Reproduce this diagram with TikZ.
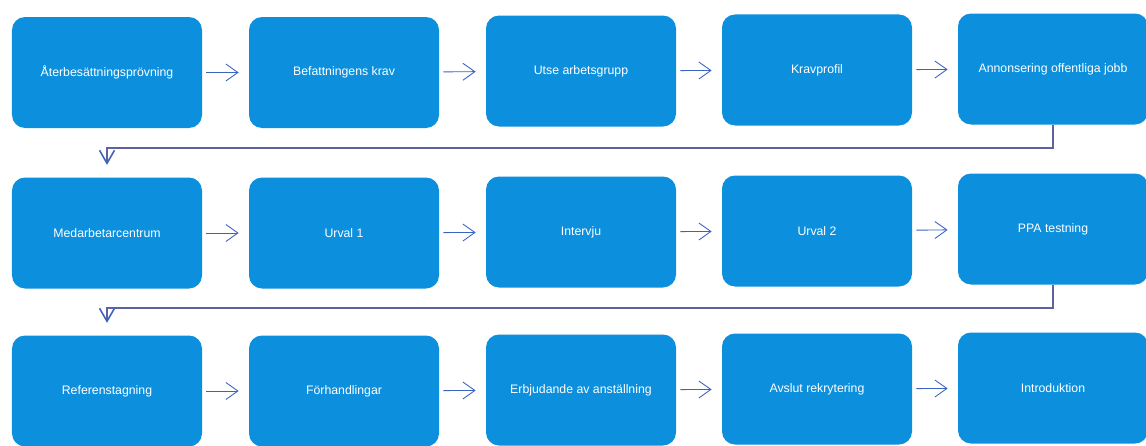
\documentclass[tikz,border=0pt]{standalone}
\usepackage{fontspec}
\setmainfont{Liberation Sans}
\usetikzlibrary{arrows.meta,positioning}
\definecolor{stepblue}{RGB}{12,143,220}
\definecolor{linkblue}{RGB}{58,100,190}
\definecolor{backline}{RGB}{96,98,160}
\tikzset{
	box/.style={fill=stepblue,rounded corners=0.26cm,minimum width=3.8cm,minimum height=2.22cm,inner sep=0pt,align=center,text=white,font=\fontsize{7}{8}\selectfont},
	next/.style={draw=linkblue,line width=0.5pt,-{Straight Barb[length=2.4mm,width=3.4mm]},shorten <=2.3pt,shorten >=5.7pt},
	back/.style={draw=backline,line width=0.9pt,-{Straight Barb[length=2.6mm,width=3mm,color=linkblue]},shorten >=7pt}
}

\begin{document}
\begin{tikzpicture}
	\useasboundingbox (0,0) rectangle (22.92,-8.92);
	% first row
	\node[box] (aterb) at (2.14,-1.45) {Återbesättningsprövning};
	\node[box] (krav) at (6.88,-1.45) {Befattningens krav};
	\node[box] (grupp) at (11.62,-1.42) {Utse arbetsgrupp};
	\node[box] (profil) at (16.34,-1.40) {Kravprofil};
	\node[box] (annons) at (21.06,-1.38) {Annonsering offentliga jobb};
	% second row
	\node[box] (medarb) at (2.14,-4.66) {Medarbetarcentrum};
	\node[box] (urval1) at (6.88,-4.66) {Urval 1};
	\node[box] (interv) at (11.62,-4.64) {Intervju};
	\node[box] (urval2) at (16.34,-4.62) {Urval 2};
	\node[box] (ppa) at (21.06,-4.58) {PPA testning};
	% third row
	\node[box] (refer) at (2.14,-7.82) {Referenstagning};
	\node[box] (forh) at (6.88,-7.82) {Förhandlingar};
	\node[box] (erbj) at (11.62,-7.80) {Erbjudande av anställning};
	\node[box] (avslut) at (16.34,-7.78) {Avslut rekrytering};
	\node[box] (intro) at (21.06,-7.76) {Introduktion};
	\draw[next] (aterb) -- (krav);
	\draw[next] (krav) -- (grupp);
	\draw[next] (grupp) -- (profil);
	\draw[next] (profil) -- (annons);
	\draw[next] (medarb) -- (urval1);
	\draw[next] (urval1) -- (interv);
	\draw[next] (interv) -- (urval2);
	\draw[next] (urval2) -- (ppa);
	\draw[next] (refer) -- (forh);
	\draw[next] (forh) -- (erbj);
	\draw[next] (erbj) -- (avslut);
	\draw[next] (avslut) -- (intro);
	\draw[back] (annons.south) -- ++(0,-0.46) -| (medarb.north);
	\draw[back] (ppa.south) -- ++(0,-0.46) -| (refer.north);
\end{tikzpicture}
\end{document}
